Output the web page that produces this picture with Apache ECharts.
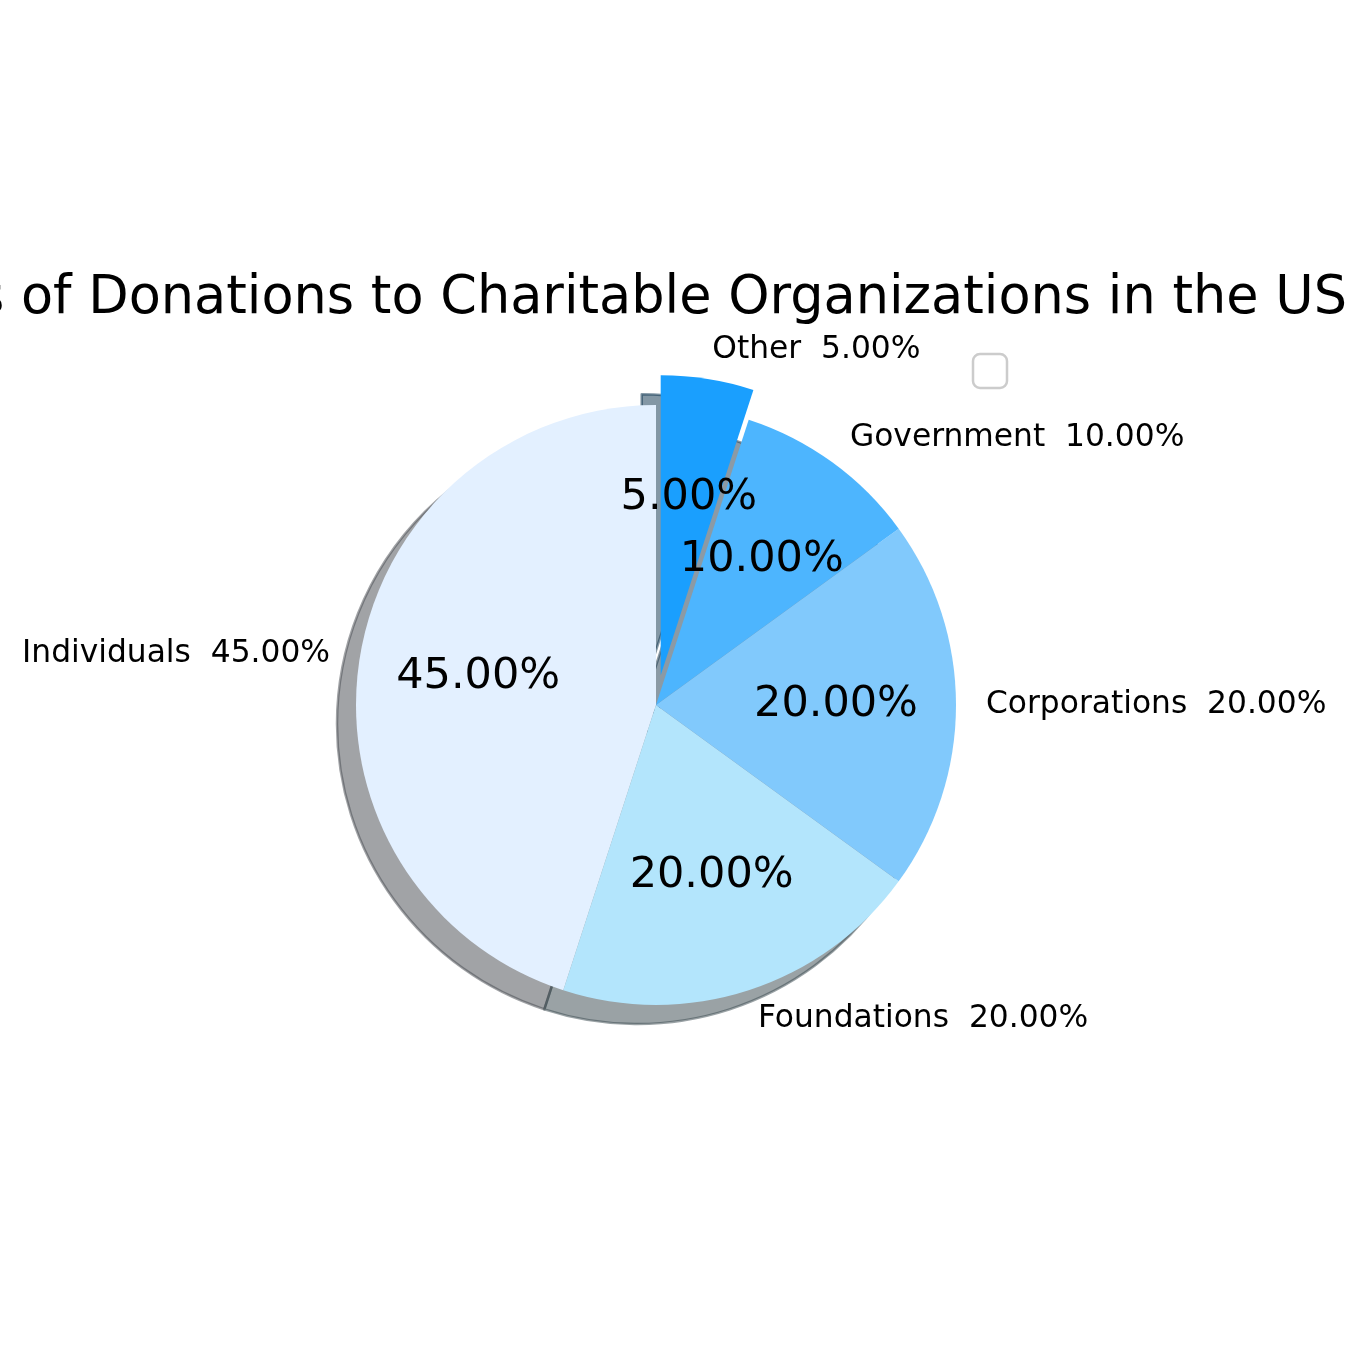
<!DOCTYPE html>
<html>
<head>
<meta charset="utf-8">
<script src="https://cdn.jsdelivr.net/npm/echarts@6/dist/echarts.min.js"></script>
<style>
    html, body { margin: 0; padding: 0; background: #fff; }
    #chart_pie { width: 1350px; height: 1350px; }
</style>
</head>
<body>
<div id="chart_pie"></div>
<script>
// 数据
var categories = ['Individuals', 'Foundations', 'Corporations', 'Government', 'Other'];
var shares = [45, 20, 20, 10, 5];
var sliceColors = ['#e3f0ff', '#b3e5fc', '#81c9fc', '#4db5fe', '#1a9ffe'];
var explodedName = 'Other';

var chart = echarts.init(document.getElementById('chart_pie'));

var R = 300;
var CX = 656, CY = 705;
var SHADOW = 19;
var EXPLODE = 0.1;
var FONT = 'DejaVu Sans';

var total = shares.reduce(function(a, b) { return a + b; }, 0);

// matplotlib 风格阴影: 0.3 * 颜色, alpha 0.5
var shadowColor = function(hex) {
    var n = parseInt(hex.slice(1), 16);
    var r = Math.round(((n >> 16) & 255) * 0.3);
    var g = Math.round(((n >> 8) & 255) * 0.3);
    var b = Math.round((n & 255) * 0.3);
    return 'rgba(' + r + ',' + g + ',' + b + ',0.5)';
};

/**
 * 生成扇区数据
 * @param {fn} style 每个扇区的 itemStyle
 */
var buildData = function(style) {
    return categories.map(function(name, i) {
        var st = style(sliceColors[i]);
        return {
            name: name,
            value: shares[i],
            selected: name === explodedName,
            itemStyle: st,
            select: { itemStyle: st }
        };
    });
};

// 内部百分比标签: 极坐标 (半径 0.6r, 爆炸扇区再加 0.1r)
var cum = 0;
var pctPoints = categories.map(function(name, i) {
    var mid = cum + shares[i] / 2;
    cum += shares[i];
    var rr = 0.6 + (name === explodedName ? EXPLODE : 0);
    return [rr, mid, shares[i] / total * 100];
});

var pieBase = function(ext) {
    return echarts.util.extend({
        type: 'pie',
        startAngle: 90,
        clockwise: false,
        selectedMode: 'multiple',
        selectedOffset: R * EXPLODE,
        avoidLabelOverlap: false,
        animation: false,
        emphasis: { disabled: true }
    }, ext);
};

var option = {
    backgroundColor: '#fff',
    title: {
        text: 'Sources of Donations to Charitable Organizations in the US',
        right: 3,
        top: 273,
        padding: 0,
        textStyle: {
            fontFamily: FONT,
            fontSize: 52.5,
            fontWeight: 'normal',
            color: '#000'
        }
    },
    graphic: [{
        // 空图例框
        type: 'rect',
        shape: { x: 973, y: 354, width: 34, height: 34, r: 7 },
        style: { fill: '#fff', stroke: '#cccccc', lineWidth: 2.5 },
        silent: true
    }],
    polar: { center: [CX, CY], radius: R },
    angleAxis: {
        type: 'value', min: 0, max: total,
        startAngle: 90, clockwise: false, show: false
    },
    radiusAxis: { type: 'value', min: 0, max: 1, show: false },
    series: [
        // 阴影
        pieBase({
            name: 'shadow',
            center: [CX - SHADOW, CY + SHADOW],
            radius: [0, R],
            silent: true,
            z: 1,
            label: { show: false },
            labelLine: { show: false },
            data: buildData(function(c) {
                return { color: shadowColor(c), borderColor: shadowColor(c), borderWidth: 2.5 };
            })
        }),
        // 主饼图 + 外部标签
        pieBase({
            name: 'share',
            center: [CX, CY],
            radius: [0, R],
            z: 2,
            label: {
                show: true,
                position: 'outside',
                distanceToLabelLine: 0,
                fontFamily: FONT,
                fontSize: 31.3,
                color: '#000',
                formatter: function(p) {
                    return p.name + '  ' + p.percent.toFixed(2) + '%';
                }
            },
            labelLine: { show: false, length: R * 0.1, length2: 0 },
            data: buildData(function(c) {
                return { color: c, borderWidth: 0 };
            })
        }),
        {
            name: 'pct',
            type: 'scatter',
            coordinateSystem: 'polar',
            z: 5,
            silent: true,
            animation: false,
            symbolSize: 1,
            itemStyle: { color: 'rgba(0,0,0,0)', opacity: 1 },
            label: {
                show: true,
                position: 'inside',
                fontFamily: FONT,
                fontSize: 43,
                color: '#000',
                opacity: 1,
                formatter: function(p) {
                    return p.value[2].toFixed(2) + '%';
                }
            },
            data: pctPoints
        }
    ]
};

chart.setOption(option);
</script>
</body>
</html>
